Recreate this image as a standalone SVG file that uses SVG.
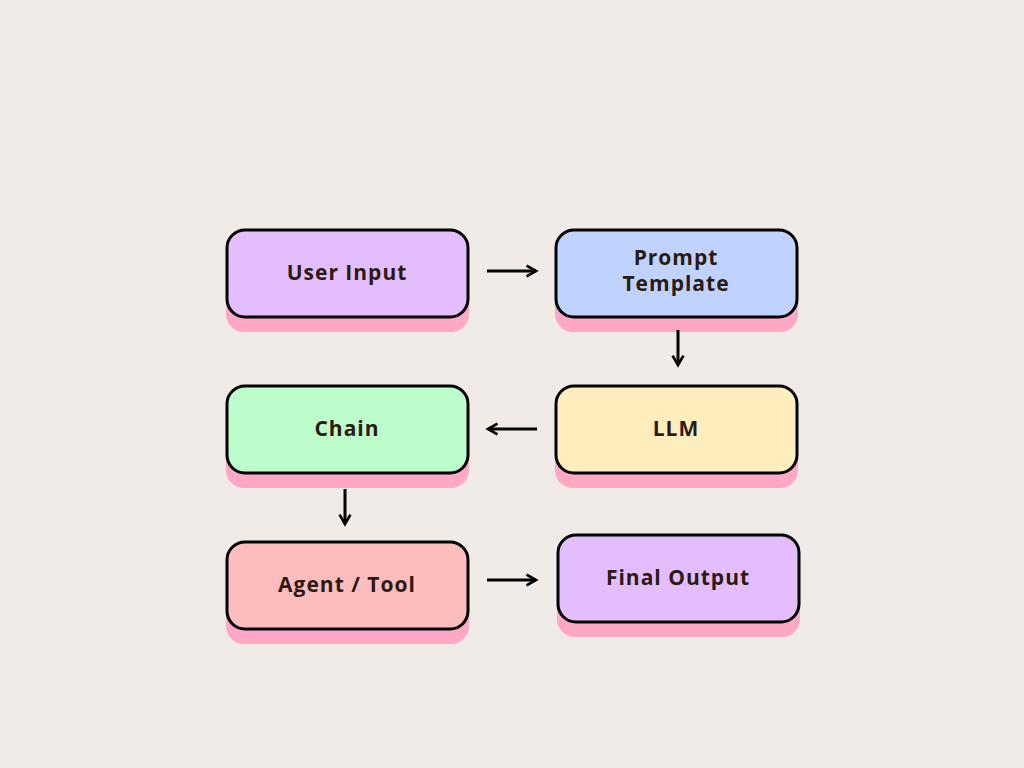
<svg xmlns="http://www.w3.org/2000/svg" width="1024" height="768" viewBox="0 0 1024 768">
<defs>
<style>
.sh{fill:#ffa8c5}
.bx{stroke:#000;stroke-width:3}
.t{font-family:"Open Sans","DejaVu Sans",sans-serif;font-weight:700;font-size:21px;fill:#2b1a12;text-anchor:middle;letter-spacing:1px}
.c{stroke:#000;stroke-width:3;fill:none;marker-end:url(#a)}
</style>
<marker id="a" viewBox="0 0 10 10" refX="8" refY="5" markerWidth="4.5" markerHeight="4.5" orient="auto"><path d="M1,1 L8,5 L1,9" fill="none" stroke="#000" stroke-width="2"/></marker>
</defs>
<rect width="1024" height="768" fill="#f0ebe7"/>
<g id="userinput"><rect class="sh" x="226" y="243" width="243" height="89" rx="18"/><rect class="bx" x="227" y="230" width="241" height="87" rx="18" fill="#e3bdfd"/><text class="t" x="347" y="280">User Input</text></g>
<g id="prompt"><rect class="sh" x="555" y="243" width="243" height="89" rx="18"/><rect class="bx" x="556" y="230" width="241" height="87" rx="18" fill="#c0d3fe"/><text class="t" x="676" y="265">Prompt</text><text class="t" x="676" y="291">Template</text></g>
<g id="llm"><rect class="sh" x="555" y="399" width="243" height="89" rx="18"/><rect class="bx" x="556" y="386" width="241" height="87" rx="18" fill="#feeebe"/><text class="t" x="676" y="436">LLM</text></g>
<g id="chain"><rect class="sh" x="226" y="399" width="243" height="89" rx="18"/><rect class="bx" x="227" y="386" width="241" height="87" rx="18" fill="#bdfdcb"/><text class="t" x="347" y="436">Chain</text></g>
<g id="agent"><rect class="sh" x="226" y="555" width="243" height="89" rx="18"/><rect class="bx" x="227" y="542" width="241" height="87" rx="18" fill="#febdbd"/><text class="t" x="347" y="592">Agent / Tool</text></g>
<g id="final"><rect class="sh" x="557" y="548" width="243" height="89" rx="18"/><rect class="bx" x="558" y="535" width="241" height="87" rx="18" fill="#e3bdfd"/><text class="t" x="678" y="585">Final Output</text></g>
<g id="connectors">
<path class="c" d="M487,271 H536"/>
<path class="c" d="M678,330 V365"/>
<path class="c" d="M537,429 H488"/>
<path class="c" d="M345,489 V524"/>
<path class="c" d="M487,580 H536"/>
</g>
</svg>
